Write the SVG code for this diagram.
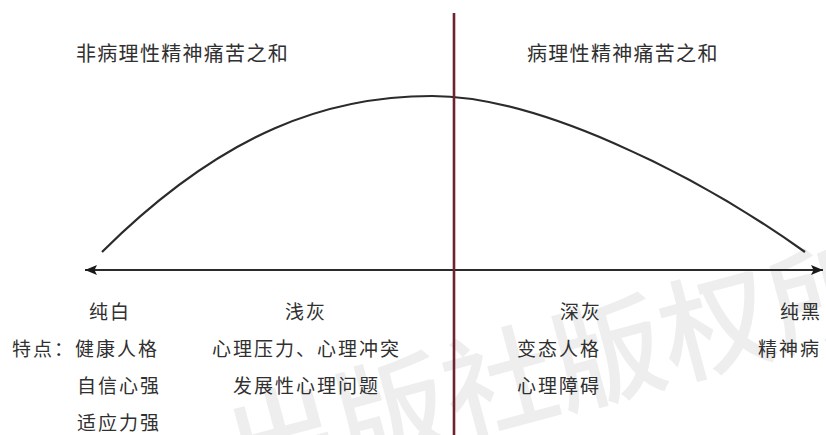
<svg xmlns="http://www.w3.org/2000/svg" width="826" height="435" viewBox="0 0 826 435">
  <defs>
    <marker id="arrow" viewBox="0 0 12 10" refX="12" refY="5" markerWidth="12" markerHeight="10" markerUnits="userSpaceOnUse" orient="auto-start-reverse">
      <path d="M0,0 L12,5 L0,10 L2.5,5 Z" fill="#1a1a1a"/>
    </marker>
  </defs>
  <style>
    .t { font-family: "Noto Sans CJK SC", "Noto Sans", sans-serif; fill: #303030; }
    .title { font-size: 20px; letter-spacing: 1.3px; }
    .lbl { font-size: 19px; letter-spacing: 2px; }
    .wm { font-family: "Noto Sans CJK SC", sans-serif; font-weight: 500; font-size: 112px; fill: #eeeeee; letter-spacing: 0px; }
    .line { fill: none; stroke: #2b2b2b; stroke-width: 2.2; }
  </style>
  <rect width="826" height="435" fill="#ffffff"/>

  <g id="watermark">
    <text class="wm" x="240" y="495" transform="rotate(-15 240 495)">出版社版权所</text>
  </g>

  <g id="connectors">
    <path id="curve" class="line" d="M102,252 C225,130 330,96 432,96 C535,96 690,170 805,252"/>
    <line id="axis" class="line" x1="85" y1="270" x2="823" y2="270" marker-start="url(#arrow)" marker-end="url(#arrow)"/>
    <line id="divider" x1="454" y1="13" x2="454" y2="435" stroke="#6e2430" stroke-width="2.6"/>
  </g>

  <g id="title-left"><text class="t title" x="76" y="61">非病理性精神痛苦之和</text></g>
  <g id="title-right"><text class="t title" x="527" y="61">病理性精神痛苦之和</text></g>

  <g id="pure-white">
    <text class="t lbl" x="89" y="319">纯白</text>
    <text class="t lbl" x="12" y="356">特点：健康人格</text>
    <text class="t lbl" x="77" y="393">自信心强</text>
    <text class="t lbl" x="77" y="430">适应力强</text>
  </g>
  <g id="light-gray">
    <text class="t lbl" x="285" y="319">浅灰</text>
    <text class="t lbl" x="212" y="356">心理压力、心理冲突</text>
    <text class="t lbl" x="233" y="393">发展性心理问题</text>
  </g>
  <g id="dark-gray">
    <text class="t lbl" x="560" y="319">深灰</text>
    <text class="t lbl" x="517" y="356">变态人格</text>
    <text class="t lbl" x="517" y="393">心理障碍</text>
  </g>
  <g id="pure-black">
    <text class="t lbl" x="780" y="319">纯黑</text>
    <text class="t lbl" x="758" y="356">精神病</text>
  </g>
</svg>
